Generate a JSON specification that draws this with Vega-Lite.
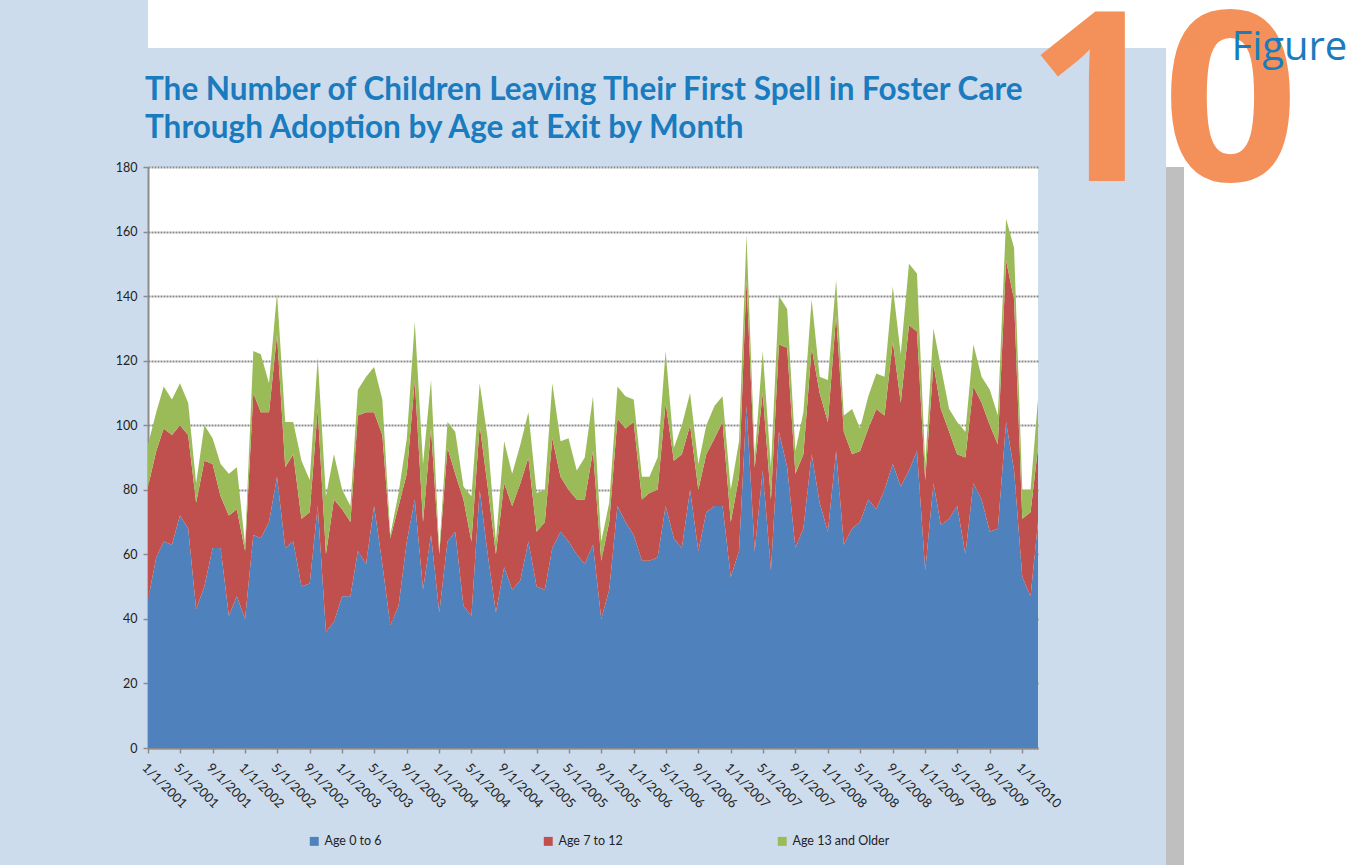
{
  "$schema": "https://vega.github.io/schema/vega-lite/v6.json",
  "autosize": {"type": "none"},
  "padding": {"left": 148, "top": 0, "right": 1212, "bottom": 865},
  "background": "#cddcec",
  "bounds": "flush",
  "spacing": 167,
  "config": {"font": "Lato"},
  "datasets": {
    "months": [
      {"month": "2001-01-01", "a": 46, "b": 35, "c": 13},
      {"month": "2001-02-01", "a": 59, "b": 33, "c": 12},
      {"month": "2001-03-01", "a": 64, "b": 35, "c": 13},
      {"month": "2001-04-01", "a": 63, "b": 34, "c": 11},
      {"month": "2001-05-01", "a": 72, "b": 28, "c": 13},
      {"month": "2001-06-01", "a": 68, "b": 29, "c": 10},
      {"month": "2001-07-01", "a": 43, "b": 33, "c": 6},
      {"month": "2001-08-01", "a": 50, "b": 39, "c": 11},
      {"month": "2001-09-01", "a": 62, "b": 26, "c": 8},
      {"month": "2001-10-01", "a": 62, "b": 16, "c": 10},
      {"month": "2001-11-01", "a": 41, "b": 31, "c": 13},
      {"month": "2001-12-01", "a": 47, "b": 27, "c": 13},
      {"month": "2002-01-01", "a": 40, "b": 21, "c": 2},
      {"month": "2002-02-01", "a": 66, "b": 44, "c": 13},
      {"month": "2002-03-01", "a": 65, "b": 39, "c": 18},
      {"month": "2002-04-01", "a": 70, "b": 34, "c": 9},
      {"month": "2002-05-01", "a": 84, "b": 44, "c": 13},
      {"month": "2002-06-01", "a": 62, "b": 25, "c": 14},
      {"month": "2002-07-01", "a": 64, "b": 27, "c": 10},
      {"month": "2002-08-01", "a": 50, "b": 21, "c": 18},
      {"month": "2002-09-01", "a": 51, "b": 22, "c": 10},
      {"month": "2002-10-01", "a": 75, "b": 30, "c": 16},
      {"month": "2002-11-01", "a": 36, "b": 24, "c": 18},
      {"month": "2002-12-01", "a": 39, "b": 38, "c": 14},
      {"month": "2003-01-01", "a": 47, "b": 27, "c": 6},
      {"month": "2003-02-01", "a": 47, "b": 23, "c": 5},
      {"month": "2003-03-01", "a": 61, "b": 42, "c": 8},
      {"month": "2003-04-01", "a": 57, "b": 47, "c": 11},
      {"month": "2003-05-01", "a": 75, "b": 29, "c": 14},
      {"month": "2003-06-01", "a": 57, "b": 40, "c": 11},
      {"month": "2003-07-01", "a": 38, "b": 27, "c": 1},
      {"month": "2003-08-01", "a": 44, "b": 31, "c": 4},
      {"month": "2003-09-01", "a": 64, "b": 21, "c": 11},
      {"month": "2003-10-01", "a": 77, "b": 37, "c": 18},
      {"month": "2003-11-01", "a": 49, "b": 21, "c": 18},
      {"month": "2003-12-01", "a": 66, "b": 33, "c": 15},
      {"month": "2004-01-01", "a": 42, "b": 18, "c": 1},
      {"month": "2004-02-01", "a": 64, "b": 29, "c": 8},
      {"month": "2004-03-01", "a": 67, "b": 18, "c": 13},
      {"month": "2004-04-01", "a": 44, "b": 33, "c": 4},
      {"month": "2004-05-01", "a": 41, "b": 23, "c": 14},
      {"month": "2004-06-01", "a": 80, "b": 20, "c": 13},
      {"month": "2004-07-01", "a": 60, "b": 21, "c": 15},
      {"month": "2004-08-01", "a": 42, "b": 18, "c": 4},
      {"month": "2004-09-01", "a": 56, "b": 26, "c": 13},
      {"month": "2004-10-01", "a": 49, "b": 26, "c": 10},
      {"month": "2004-11-01", "a": 52, "b": 30, "c": 12},
      {"month": "2004-12-01", "a": 64, "b": 26, "c": 14},
      {"month": "2005-01-01", "a": 50, "b": 17, "c": 12},
      {"month": "2005-02-01", "a": 49, "b": 21, "c": 10},
      {"month": "2005-03-01", "a": 62, "b": 34, "c": 17},
      {"month": "2005-04-01", "a": 67, "b": 17, "c": 11},
      {"month": "2005-05-01", "a": 64, "b": 16, "c": 16},
      {"month": "2005-06-01", "a": 60, "b": 17, "c": 9},
      {"month": "2005-07-01", "a": 57, "b": 20, "c": 13},
      {"month": "2005-08-01", "a": 63, "b": 29, "c": 17},
      {"month": "2005-09-01", "a": 40, "b": 18, "c": 6},
      {"month": "2005-10-01", "a": 49, "b": 21, "c": 6},
      {"month": "2005-11-01", "a": 75, "b": 27, "c": 10},
      {"month": "2005-12-01", "a": 70, "b": 29, "c": 10},
      {"month": "2006-01-01", "a": 66, "b": 35, "c": 7},
      {"month": "2006-02-01", "a": 58, "b": 19, "c": 7},
      {"month": "2006-03-01", "a": 58, "b": 21, "c": 5},
      {"month": "2006-04-01", "a": 59, "b": 21, "c": 10},
      {"month": "2006-05-01", "a": 75, "b": 32, "c": 16},
      {"month": "2006-06-01", "a": 65, "b": 24, "c": 4},
      {"month": "2006-07-01", "a": 62, "b": 29, "c": 9},
      {"month": "2006-08-01", "a": 80, "b": 20, "c": 10},
      {"month": "2006-09-01", "a": 61, "b": 19, "c": 8},
      {"month": "2006-10-01", "a": 73, "b": 18, "c": 9},
      {"month": "2006-11-01", "a": 75, "b": 21, "c": 10},
      {"month": "2006-12-01", "a": 75, "b": 26, "c": 8},
      {"month": "2007-01-01", "a": 53, "b": 17, "c": 10},
      {"month": "2007-02-01", "a": 61, "b": 23, "c": 11},
      {"month": "2007-03-01", "a": 106, "b": 39, "c": 14},
      {"month": "2007-04-01", "a": 61, "b": 26, "c": 3},
      {"month": "2007-05-01", "a": 86, "b": 24, "c": 13},
      {"month": "2007-06-01", "a": 55, "b": 22, "c": 10},
      {"month": "2007-07-01", "a": 98, "b": 27, "c": 15},
      {"month": "2007-08-01", "a": 87, "b": 37, "c": 12},
      {"month": "2007-09-01", "a": 62, "b": 23, "c": 7},
      {"month": "2007-10-01", "a": 68, "b": 23, "c": 13},
      {"month": "2007-11-01", "a": 91, "b": 33, "c": 15},
      {"month": "2007-12-01", "a": 76, "b": 34, "c": 5},
      {"month": "2008-01-01", "a": 67, "b": 34, "c": 13},
      {"month": "2008-02-01", "a": 92, "b": 42, "c": 11},
      {"month": "2008-03-01", "a": 63, "b": 35, "c": 5},
      {"month": "2008-04-01", "a": 68, "b": 23, "c": 14},
      {"month": "2008-05-01", "a": 70, "b": 22, "c": 7},
      {"month": "2008-06-01", "a": 77, "b": 22, "c": 10},
      {"month": "2008-07-01", "a": 74, "b": 31, "c": 11},
      {"month": "2008-08-01", "a": 80, "b": 23, "c": 12},
      {"month": "2008-09-01", "a": 88, "b": 38, "c": 17},
      {"month": "2008-10-01", "a": 81, "b": 26, "c": 15},
      {"month": "2008-11-01", "a": 86, "b": 45, "c": 19},
      {"month": "2008-12-01", "a": 92, "b": 37, "c": 18},
      {"month": "2009-01-01", "a": 55, "b": 28, "c": 5},
      {"month": "2009-02-01", "a": 82, "b": 37, "c": 11},
      {"month": "2009-03-01", "a": 69, "b": 36, "c": 13},
      {"month": "2009-04-01", "a": 71, "b": 27, "c": 7},
      {"month": "2009-05-01", "a": 75, "b": 16, "c": 10},
      {"month": "2009-06-01", "a": 60, "b": 30, "c": 8},
      {"month": "2009-07-01", "a": 82, "b": 30, "c": 13},
      {"month": "2009-08-01", "a": 77, "b": 30, "c": 8},
      {"month": "2009-09-01", "a": 67, "b": 33, "c": 11},
      {"month": "2009-10-01", "a": 68, "b": 26, "c": 9},
      {"month": "2009-11-01", "a": 101, "b": 50, "c": 13},
      {"month": "2009-12-01", "a": 86, "b": 53, "c": 16},
      {"month": "2010-01-01", "a": 53, "b": 18, "c": 9},
      {"month": "2010-02-01", "a": 47, "b": 26, "c": 7},
      {"month": "2010-03-01", "a": 70, "b": 23, "c": 15}
    ]
  },
  "vconcat": [
    {
      "bounds": "flush",
      "spacing": 0,
      "hconcat": [
        {
          "width": 1018,
          "height": 48,
          "view": {"fill": "white", "stroke": null},
          "data": {"name": "months"},
          "mark": {"type": "point", "opacity": 0},
          "encoding": {}
        },
        {
          "width": 194,
          "height": 167,
          "view": {"fill": "white", "stroke": null},
          "data": {"name": "months"},
          "mark": {"type": "point", "opacity": 0},
          "encoding": {}
        }
      ]
    },
    {
      "bounds": "flush",
      "spacing": 128,
      "hconcat": [
        {
          "width": 890,
          "height": 581,
          "view": {"fill": "white", "stroke": null},
          "title": {
            "text": ["The Number of Children Leaving Their First Spell in Foster Care", "Through Adoption by Age at Exit by Month"],
            "anchor": "start",
            "frame": "group",
            "font": "Lato",
            "fontSize": 31.5,
            "fontWeight": "bold",
            "color": "#1a7bbf",
            "lineHeight": 38,
            "offset": 20,
            "dx": -3,
            "dy": 3
          },
          "data": {"name": "months"},
          "transform": [{"fold": ["a", "b", "c"], "as": ["group", "count"]}],
          "mark": {"type": "area", "interpolate": "linear"},
          "encoding": {
            "x": {
              "field": "month",
              "type": "temporal",
              "scale": {"type": "utc", "nice": false},
              "axis": {
                "title": null,
                "tickCount": {"interval": "month", "step": 4},
                "labelExpr": "utcFormat(datum.value, '%-m/%-d/%Y')",
                "labelAngle": 45,
                "labelAlign": "left",
                "labelBaseline": "top",
                "labelFontSize": 13,
                "labelColor": "#222222",
                "labelPadding": 8,
                "labelOverlap": false,
                "labelBound": false,
                "labelFlush": false,
                "grid": false,
                "tickSize": 5,
                "tickColor": "#8c8c8c",
                "tickWidth": 1.5,
                "domainColor": "#8c8c8c",
                "domainWidth": 2
              }
            },
            "y": {
              "field": "count",
              "type": "quantitative",
              "stack": "zero",
              "scale": {"domain": [0, 180], "nice": false},
              "axis": {
                "title": null,
                "values": [0, 20, 40, 60, 80, 100, 120, 140, 160, 180],
                "labelFontSize": 12.5,
                "labelColor": "#222222",
                "labelPadding": 6,
                "grid": true,
                "gridColor": "#8a8a8a",
                "gridWidth": 2,
                "gridDash": [2, 1],
                "tickSize": 5,
                "tickColor": "#8c8c8c",
                "tickWidth": 1.5,
                "domainColor": "#8c8c8c",
                "domainWidth": 2
              }
            },
            "order": {"field": "group", "type": "nominal", "sort": "ascending"},
            "color": {
              "field": "group",
              "type": "nominal",
              "scale": {"domain": ["a", "b", "c"], "range": ["#4F81BD", "#C0504D", "#9BBB59"]},
              "legend": {
                "orient": "none",
                "legendX": 160,
                "legendY": 835,
                "direction": "horizontal",
                "title": null,
                "symbolType": "square",
                "symbolSize": 80,
                "symbolStrokeWidth": 0,
                "labelFont": "Lato",
                "labelFontSize": 12.5,
                "labelColor": "#222222",
                "columnPadding": 120,
                "gridAlign": "all",
                "labelExpr": "datum.label == 'a' ? 'Age 0 to 6' : datum.label == 'b' ? 'Age 7 to 12' : 'Age 13 and Older'"
              }
            }
          }
        },
        {
          "bounds": "flush",
          "spacing": 0,
          "hconcat": [
            {
              "width": 18,
              "height": 698,
              "view": {"fill": "#bfbfbf", "stroke": null},
              "data": {"name": "months"},
              "mark": {"type": "point", "opacity": 0},
              "encoding": {}
            },
            {
              "width": 210,
              "height": 698,
              "view": {"fill": "white", "stroke": null},
              "data": {"name": "months"},
              "mark": {"type": "point", "opacity": 0},
              "encoding": {
                "x": {
                  "field": "month",
                  "type": "temporal",
                  "axis": {
                    "labels": false,
                    "ticks": false,
                    "domain": false,
                    "grid": false,
                    "title": "10",
                    "titleX": -158,
                    "titleY": -685,
                    "titleAngle": 0,
                    "titleAlign": "left",
                    "titleBaseline": "alphabetic",
                    "titleFont": "Open Sans",
                    "titleFontSize": 238,
                    "titleFontWeight": "bold",
                    "titleColor": "#f4915a"
                  }
                },
                "y": {
                  "field": "a",
                  "type": "quantitative",
                  "axis": {
                    "labels": false,
                    "ticks": false,
                    "domain": false,
                    "grid": false,
                    "title": "Figure",
                    "titleX": 47,
                    "titleY": -108,
                    "titleAngle": 0,
                    "titleAlign": "left",
                    "titleBaseline": "alphabetic",
                    "titleFont": "Open Sans",
                    "titleFontSize": 40,
                    "titleFontWeight": "normal",
                    "titleColor": "#1a7bbf"
                  }
                }
              }
            }
          ]
        }
      ]
    }
  ]
}
